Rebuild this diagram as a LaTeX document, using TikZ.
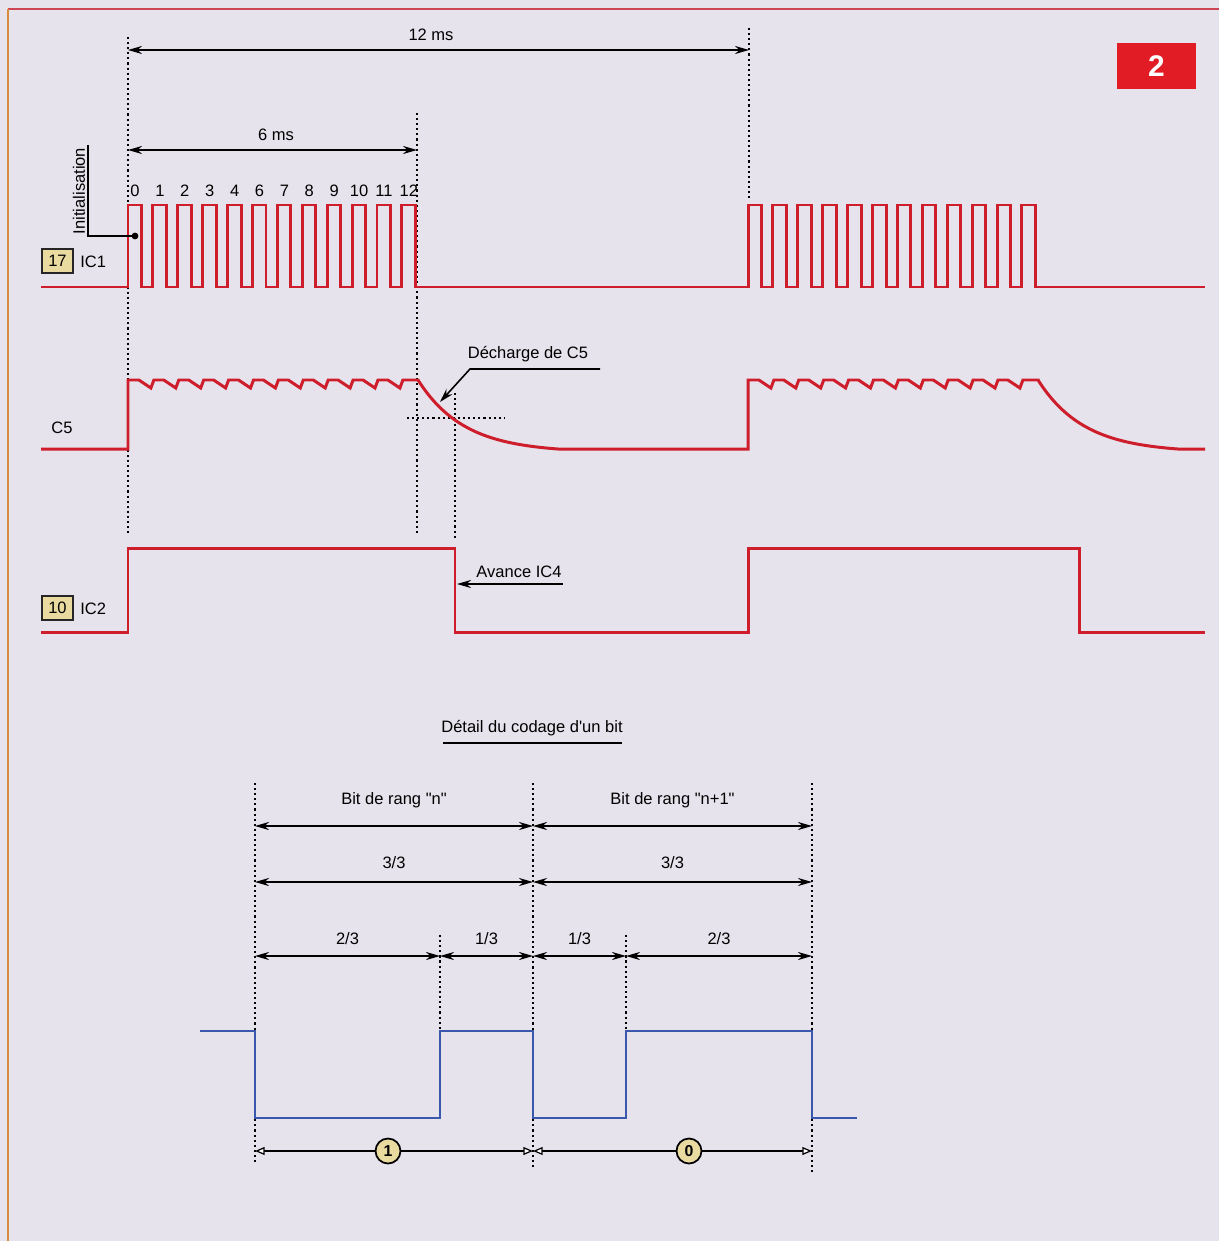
\documentclass[tikz,border=0pt]{standalone}
\usepackage{fontspec}
\setmainfont{Liberation Sans}[Ligatures=TeXOff]
\usetikzlibrary{arrows.meta,calc}
\definecolor{bg}{RGB}{231,227,236}
\definecolor{sig}{RGB}{206,30,44}
\definecolor{bsig}{RGB}{58,88,172}
\definecolor{tan}{RGB}{233,218,160}
\definecolor{badge}{RGB}{226,28,36}
\definecolor{borderred}{RGB}{205,70,85}
\definecolor{borderorange}{RGB}{214,140,60}
\begin{document}
\begin{tikzpicture}[x=0.02cm,y=-0.02cm,
  sigline/.style={draw=sig,line width=1.7pt,line join=miter},
  bsigline/.style={draw=bsig,line width=1.6pt,line join=miter},
  dotline/.style={draw=black,line width=0.9pt,dash pattern=on 1.2pt off 1.7pt},
  dimline/.style={draw=black,line width=0.9pt,{Stealth[length=8pt,width=4.6pt]}-{Stealth[length=8pt,width=4.6pt]}},
  opendim/.style={draw=black,line width=0.7pt,{Triangle[open,fill=white,length=5.5pt,width=4.5pt]}-{Triangle[open,fill=white,length=5.5pt,width=4.5pt]}},
  lbl/.style={font=\fontsize{9.4}{11}\selectfont,inner sep=0pt},
  pinbox/.style={draw=black!85,line width=1.1pt,fill=tan,minimum width=0.62cm,minimum height=0.48cm,inner sep=0pt,font=\fontsize{9.4}{11}\selectfont},
  bitcircle/.style={circle,draw=black,line width=1pt,fill=tan,minimum size=0.5cm,inner sep=0pt,font=\bfseries\fontsize{9}{10}\selectfont},
  leader/.style={draw=black,line width=0.9pt}]
\useasboundingbox (0,0) rectangle (1219,1241);
\fill[bg] (0,0) rectangle (1219,1241);
% border
\draw[draw=borderred,line width=1.2pt] (8,9) -- (1219,9);
\draw[draw=borderorange,line width=1.6pt] (8,9) -- (8,1241);
% badge
\node[fill=badge,minimum width=1.58cm,minimum height=0.92cm,inner sep=0pt,text=white,font=\bfseries\fontsize{17}{18}\selectfont] (badge) at (1156.5,66) {2};

% ---------- dotted guide lines (top) ----------
\draw[dotline] (128,37) -- (128,535);
\draw[dotline] (417,113) -- (417,535);
\draw[dotline] (749,28) -- (749,200);
\draw[dotline] (455,393) -- (455,538);
\draw[dotline] (407,418) -- (504,418);

% ---------- dimension arrows ----------
\coordinate (a12l) at (128,50); \coordinate (a12r) at (749,50);
\draw[dimline] (a12l) -- (a12r);
\node[lbl] (t12) at (431,35) {12 ms};
\coordinate (a6l) at (128,150); \coordinate (a6r) at (417,150);
\draw[dimline] (a6l) -- (a6r);
\node[lbl] (t6) at (276,135) {6 ms};

% ---------- IC1 ----------
\node[pinbox] (p17) at (57.5,261) {17};
\node[lbl,anchor=west] (ic1) at (80,262) {IC1};
\draw[sigline] (41,287)
  \foreach \i in {0,...,11} { -- ({128+24.9*\i},287) -- ({128+24.9*\i},205) -- ({141.5+24.9*\i},205) -- ({141.5+24.9*\i},287) }
  \foreach \i in {0,...,11} { -- ({748+24.9*\i},287) -- ({748+24.9*\i},205) -- ({761.5+24.9*\i},205) -- ({761.5+24.9*\i},287) }
  -- (1205,287);
\foreach \t [count=\i from 0] in {0,1,2,3,4,6,7,8,9,10,11,12}
  \node[lbl] (n\i) at ({135+24.9*\i},191) {\t};
% Initialisation
\node[lbl,rotate=90] (init) at (79,191) {Initialisation};
\coordinate (initdot) at (135,236);
\draw[leader] (88,145) -- (88,236) -- (initdot);
\fill[black] (initdot) circle (3.4);

% ---------- C5 ----------
\node[lbl] (c5) at (62,428) {C5};
\draw[sigline] (41,449) -- (128,449) -- (128,380)
  \foreach \i in {1,...,11} { -- ({128+24.9*\i-14},380) -- ({128+24.9*\i-2},388) -- ({128+24.9*\i+1},380) }
  -- (418,380)
  -- plot[domain=0:140,samples=60] ({418+\x},{449-69*(exp(-\x/46)-0.0476)/0.9524})
  -- (748,449) -- (748,380)
  \foreach \i in {1,...,11} { -- ({748+24.9*\i-14},380) -- ({748+24.9*\i-2},388) -- ({748+24.9*\i+1},380) }
  -- (1038,380)
  -- plot[domain=0:140,samples=60] ({1038+\x},{449-69*(exp(-\x/46)-0.0476)/0.9524})
  -- (1205,449);
\node[lbl] (dech) at (528,354) {Décharge de C5};
\coordinate (dechtip) at (440,402);
\draw[leader,-{Stealth[length=8pt,width=4.6pt]}] (600,369) -- (470,369) -- (dechtip);

% ---------- IC2 ----------
\node[pinbox] (p10) at (57.5,608) {10};
\node[lbl,anchor=west] (ic2) at (80,609) {IC2};
\draw[sigline] (41,632) -- (128,632) -- (128,548) -- (455,548) -- (455,632)
  -- (748,632) -- (748,548) -- (1079,548) -- (1079,632) -- (1205,632);
\node[lbl] (av) at (519,572) {Avance IC4};
\coordinate (avtip) at (457,584);
\draw[leader,-{Stealth[length=8pt,width=4.6pt]}] (563,584) -- (avtip);

% ---------- Detail ----------
\node[lbl] (detail) at (532,728) {Détail du codage d'un bit};
\draw[leader] (443,743) -- (622,743);

\draw[dotline] (255,783) -- (255,1165);
\draw[dotline] (533,783) -- (533,1167);
\draw[dotline] (812,783) -- (812,1173);
\draw[dotline] (440,935) -- (440,1031);
\draw[dotline] (626,935) -- (626,1031);

\draw[dimline] (255,826) -- node[lbl,above=10pt] (bn) {Bit de rang "n"} (533,826);
\draw[dimline] (533,826) -- node[lbl,above=10pt] (bn1) {Bit de rang "n+1"} (812,826);
\draw[dimline] (255,882) -- node[lbl,above=7pt] (q1) {3/3} (533,882);
\draw[dimline] (533,882) -- node[lbl,above=7pt] (q2) {3/3} (812,882);
\draw[dimline] (255,956) -- node[lbl,above=6pt] (r1) {2/3} (440,956);
\draw[dimline] (440,956) -- node[lbl,above=6pt] (r2) {1/3} (533,956);
\draw[dimline] (533,956) -- node[lbl,above=6pt] (r3) {1/3} (626,956);
\draw[dimline] (626,956) -- node[lbl,above=6pt] (r4) {2/3} (812,956);

\draw[bsigline] (200,1031) -- (255,1031) -- (255,1118) -- (440,1118) -- (440,1031)
  -- (533,1031) -- (533,1118) -- (626,1118) -- (626,1031) -- (812,1031) -- (812,1118) -- (857,1118);

\draw[opendim] (255,1151) -- (533,1151);
\draw[opendim] (533,1151) -- (812,1151);
\node[bitcircle] (bit1) at (388,1151) {1};
\node[bitcircle] (bit0) at (689,1151) {0};
\end{tikzpicture}
\end{document}
